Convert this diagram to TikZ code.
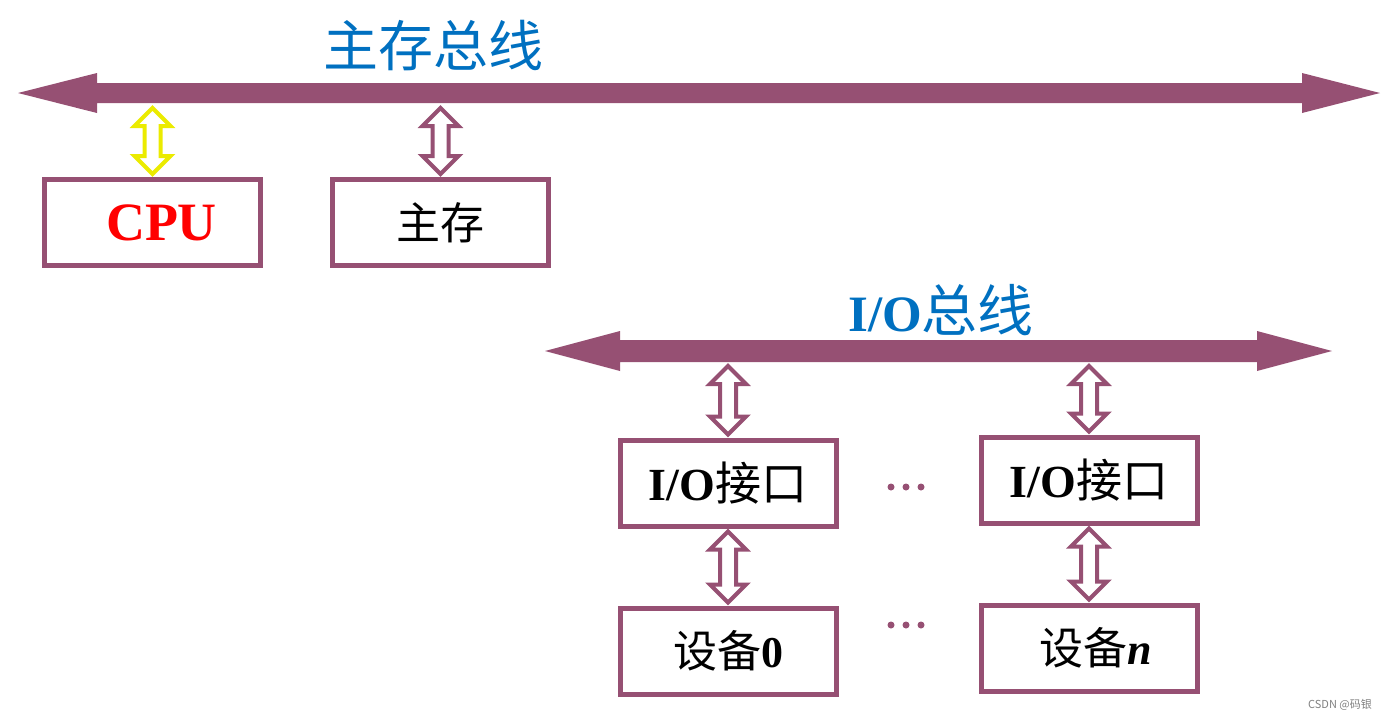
\documentclass[tikz,border=0pt]{standalone}
\usepackage{fontspec}
\setmainfont{Liberation Serif}
\newfontfamily\cjk{Noto Sans CJK SC}
\usepackage{tikz}
\usetikzlibrary{calc,positioning}
\definecolor{busplum}{RGB}{150,80,115}
\definecolor{titleblue}{RGB}{0,112,192}
\definecolor{cpured}{RGB}{255,0,0}
\definecolor{linkyellow}{RGB}{235,235,0}

% hollow two-headed link, #1 colour, #2 upper end, #3 lower end
\newcommand{\duallink}[3]{%
  \draw[draw=#1, line width=4pt, line join=miter] let \p1=(#2), \p2=(#3) in
    (\x1,\y1) -- (\x1-18pt,\y1-18pt) -- (\x1-8pt,\y1-18pt) -- (\x1-8pt,\y2+18pt)
    -- (\x1-18pt,\y2+18pt) -- (\x1,\y2) -- (\x1+18pt,\y2+18pt) -- (\x1+8pt,\y2+18pt)
    -- (\x1+8pt,\y1-18pt) -- (\x1+18pt,\y1-18pt) -- cycle;}

\begin{document}
\begin{tikzpicture}[x=1pt, y=-1pt,
    unitbox/.style={draw=busplum, line width=5pt, minimum width=216pt,
      minimum height=86pt, inner sep=0pt},
    boxtext/.style={font=\fontsize{44}{48}\selectfont},
    bustitle/.style={text=titleblue, inner sep=0pt}]
  \useasboundingbox (0,0) rectangle (1391,721);
  % Main bus
  \fill[busplum] (18,93) -- (97,73) -- (97,83) -- (1302,83) -- (1302,73) -- (1380,93)
    -- (1302,113) -- (1302,103) -- (97,103) -- (97,113) -- cycle;
  \coordinate (mainlink) at (0,108);
  \node[bustitle] (maintitle) at (433,46) {\fontsize{55}{60}\selectfont\cjk 主存总线};
  % I/O bus
  \fill[busplum] (545,351) -- (620,331) -- (620,340) -- (1257,340) -- (1257,331) -- (1332,351)
    -- (1257,371) -- (1257,362) -- (620,362) -- (620,371) -- cycle;
  \coordinate (iolink) at (0,366);
  \node[bustitle] (iotitle) at (941,310)
    {\fontsize{51}{56}\selectfont\textbf{I/O}{\fontsize{56}{60}\selectfont\cjk 总线}};
  % Boxes
  \node[unitbox, boxtext, text=cpured] (cpu) at (152.5,222.5)
    {\fontsize{54}{58}\selectfont\hspace*{18pt}\raisebox{-5pt}{\textbf{CPU}}};
  \node[unitbox, boxtext] (mem) at (440.5,222.5) {\raisebox{-3pt}{\cjk 主存}};
  \node[unitbox, boxtext] (io0) at (728,483)
    {\fontsize{46}{50}\selectfont\raisebox{-5pt}{\textbf{I/O}{\cjk 接口}}};
  \node[unitbox, boxtext] (ion) at (1089,480)
    {\fontsize{46}{50}\selectfont\raisebox{-5pt}{\textbf{I/O}{\cjk 接口}}};
  \node[unitbox, boxtext, below=77pt of io0] (dev0) {{\cjk 设备}\textbf{0}};
  \node[unitbox, boxtext, below=77pt of ion] (devn) {\hspace*{14pt}{\cjk 设备}\textbf{\textit{n}}};
  % Links
  \duallink{linkyellow}{cpu.north |- mainlink}{[yshift=3pt]cpu.north}
  \duallink{busplum}{mem.north |- mainlink}{[yshift=3pt]mem.north}
  \duallink{busplum}{io0.north |- iolink}{[yshift=3pt]io0.north}
  \duallink{busplum}{ion.north |- iolink}{[yshift=3pt]ion.north}
  \duallink{busplum}{[yshift=-3pt]io0.south}{[yshift=3pt]dev0.north}
  \duallink{busplum}{[yshift=-3pt]ion.south}{[yshift=3pt]devn.north}
  % Dots
  \foreach \x in {891,906,921} {
    \fill[busplum] (\x,487) circle (3.5pt);
    \fill[busplum] (\x,625) circle (3.5pt);
  }
  \node[text=gray, font=\fontsize{11}{13}\selectfont] (mark) at (1340,705) {\cjk CSDN @码银};
\end{tikzpicture}
\end{document}
